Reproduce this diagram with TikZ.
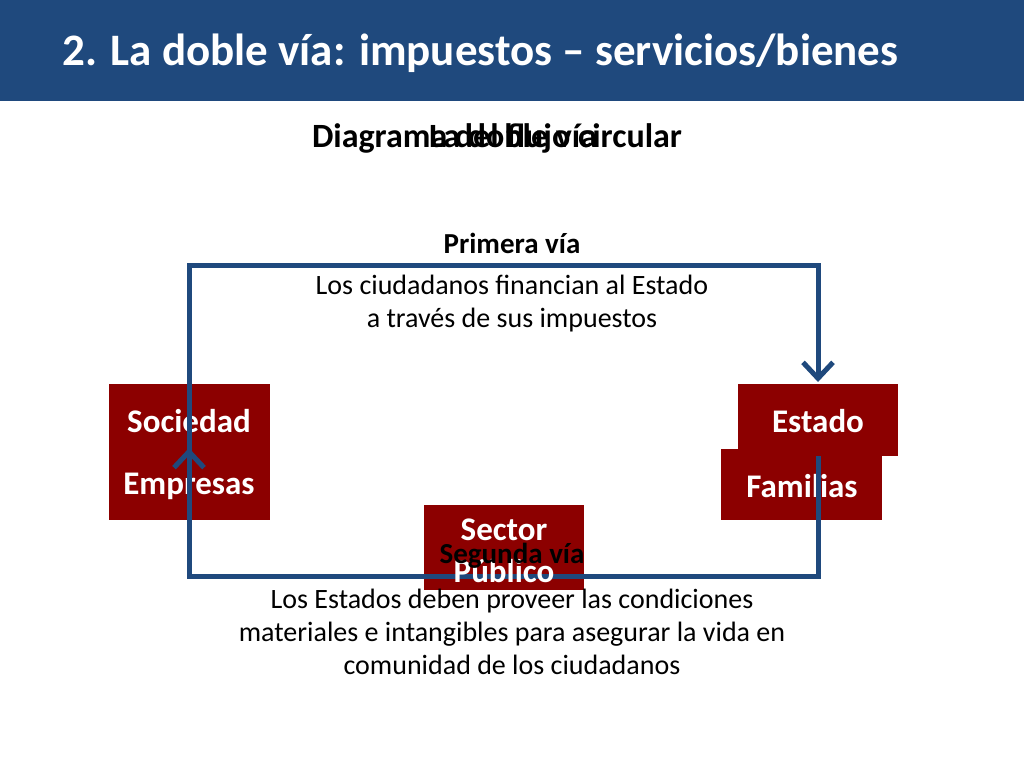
\documentclass[tikz,border=0pt]{standalone}
\usepackage{fontspec}
\setmainfont{Carlito}
\usetikzlibrary{arrows.meta}
\definecolor{navy}{RGB}{31,73,125}
\definecolor{wine}{RGB}{140,0,0}
\begin{document}
\begin{tikzpicture}[x=1pt,y=-1pt]
\tikzset{boxtext/.style={text=white,font=\bfseries\fontsize{33}{36}\selectfont,inner sep=0pt},
  flow/.style={navy,line width=5pt,-{Straight Barb[length=16pt,width=30pt,line width=5pt]}},
  txt/.style={font=\fontsize{28}{33}\selectfont,align=center}}
\useasboundingbox (0,0) rectangle (1024,768);
% title bar
\fill[navy] (0,0) rectangle (1024,101);
\node[anchor=west,text=white,font=\bfseries\fontsize{45}{50}\selectfont,inner sep=0pt] (title) at (62,53) {2. La doble vía: impuestos -- servicios/bienes};
\node[font=\bfseries\fontsize{34}{38}\selectfont] (sub1) at (497,138) {Diagrama del flujo circular};
\node[font=\bfseries\fontsize{34}{38}\selectfont] (sub2) at (513,136) {La doble vía};
% boxes
\fill[wine] (109,384) rectangle (270,520);
\node[boxtext] (soc) at (189,421) {Sociedad};
\node[boxtext] (emp) at (189,486) {Empresas};
\fill[wine] (721,449) rectangle (882,520);
\node[boxtext] (fam) at (802,486) {Familias};
\fill[wine] (738,384) rectangle (898,456);
\node[boxtext] (est) at (818,421) {Estado};
\fill[wine] (424,505) rectangle (584,590);
% corners
\coordinate (a) at (189,456);
\coordinate (b) at (189,265);
\coordinate (c) at (818,265);
\coordinate (d) at (818,382);
\coordinate (e) at (818,456);
\coordinate (f) at (818,576);
\coordinate (g) at (189,576);
\coordinate (h) at (189,448);
\draw[flow] (a) -- (b) -- (c) -- (d);
\draw[flow] (e) -- (f) -- (g) -- (h);
\node[boxtext] (sec) at (504,530) {Sector};
\node[boxtext] (pub) at (504,571) {Público};
% labels
\node[font=\bfseries\fontsize{29}{33}\selectfont] (v1) at (512,243) {Primera vía};
\node[txt] (t1) at (512,304) {Los ciudadanos financian al Estado\\a través de sus impuestos};
\node[font=\bfseries\fontsize{29}{33}\selectfont] (v2) at (512,556) {Segunda vía};
\node[txt] (t2) at (512,632) {Los Estados deben proveer las condiciones\\materiales e intangibles para asegurar la vida en\\comunidad de los ciudadanos};
\end{tikzpicture}
\end{document}
